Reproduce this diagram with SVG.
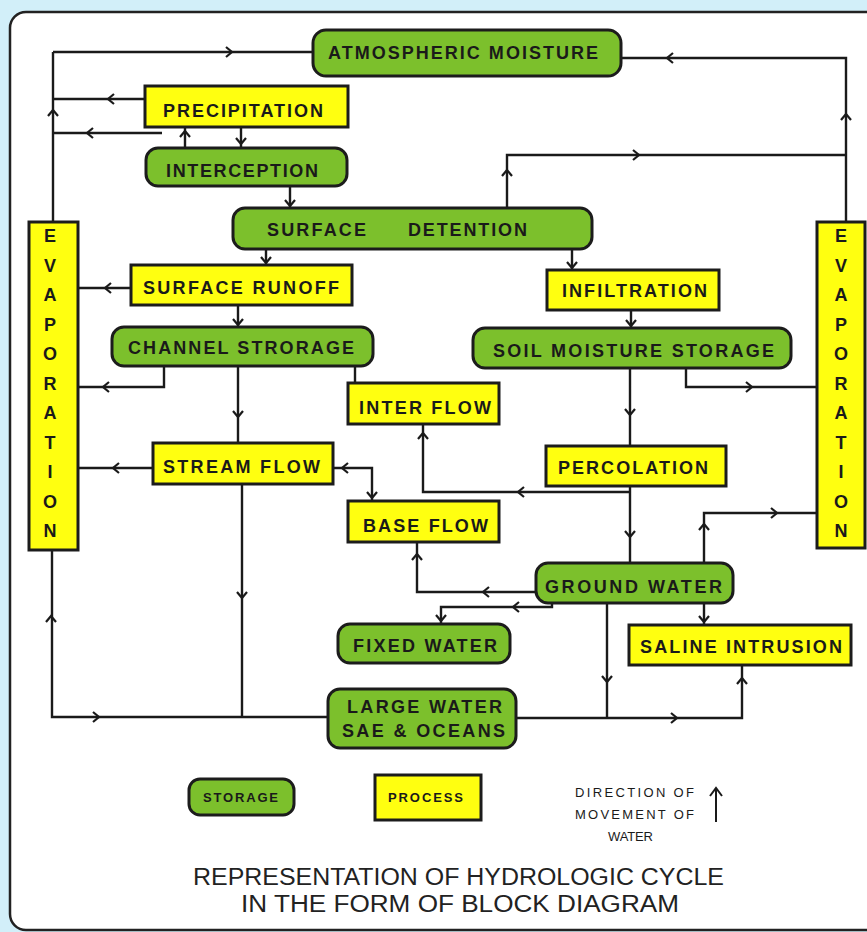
<svg xmlns="http://www.w3.org/2000/svg" xmlns:xlink="http://www.w3.org/1999/xlink" width="867" height="932" viewBox="0 0 867 932">
<style>
.st{fill:#7cc02c;stroke:#1c1c1c;stroke-width:3}
.pr{fill:#ffff10;stroke:#1c1c1c;stroke-width:3}
.t{font-family:"Liberation Sans",Arial,sans-serif;font-weight:bold;font-size:18px;fill:#1a1a1a}
.ev{font-family:"Liberation Sans",Arial,sans-serif;font-weight:bold;font-size:18px;fill:#1a1a1a;text-anchor:middle}
.ln{fill:none;stroke:#1a1a1a;stroke-width:2.4}
.lg{font-family:"Liberation Sans",Arial,sans-serif;font-weight:bold;font-size:13px;fill:#1a1a1a}
.dir{font-family:"Liberation Sans",Arial,sans-serif;font-size:13px;fill:#1a1a1a}
.ttl{font-family:"Liberation Sans",Arial,sans-serif;font-size:23px;fill:#222}
</style>
<defs>
<path id="a" d="M-6,-5 L0,0 L-6,5" fill="none" stroke="#1a1a1a" stroke-width="2.2"/>
</defs>
<rect x="0" y="0" width="867" height="932" fill="#d2eff9"/>
<rect x="10" y="12" width="890" height="918" rx="16" fill="#ffffff" stroke="#222" stroke-width="2.5"/>

<g id="connectors">
<path class="ln" d="M53,52 H313 M53,52 V222 M145,99 H53 M162,133 H53 M185,148 V127 M241,127 V148 M290,186 V208 M266,249 V265 M131,288 H78 M238,305 V327 M164,366 V387 H78 M238,366 V443 M355,366 V383 M153,468 H78 M242,484 V718 M333,468 H372 V501 M630,368 V446 M630,486 V563 M630,492 H423 V424 M536,592 H417 V542 M552,603 V607 H441 V624 M572,249 V270 M631,310 V328 M686,368 V387 H817 M507,208 V155 H846 M846,222 V58 H621 M704,563 V513 H817 M607,603 V718 M704,603 V625 M516,718 H742 V665 M52,550 V717 H328"/>
<use xlink:href="#a" transform="translate(232,52)"/>
<use xlink:href="#a" transform="translate(108,99) rotate(180)"/>
<use xlink:href="#a" transform="translate(87,133) rotate(180)"/>
<use xlink:href="#a" transform="translate(53,110) rotate(-90)"/>
<use xlink:href="#a" transform="translate(185,131) rotate(-90)"/>
<use xlink:href="#a" transform="translate(241,144) rotate(90)"/>
<use xlink:href="#a" transform="translate(290,206) rotate(90)"/>
<use xlink:href="#a" transform="translate(266,263) rotate(90)"/>
<use xlink:href="#a" transform="translate(105,288) rotate(180)"/>
<use xlink:href="#a" transform="translate(238,325) rotate(90)"/>
<use xlink:href="#a" transform="translate(103,387) rotate(180)"/>
<use xlink:href="#a" transform="translate(238,417) rotate(90)"/>
<use xlink:href="#a" transform="translate(113,468) rotate(180)"/>
<use xlink:href="#a" transform="translate(242,598) rotate(90)"/>
<use xlink:href="#a" transform="translate(342,468) rotate(180)"/>
<use xlink:href="#a" transform="translate(372,498) rotate(90)"/>
<use xlink:href="#a" transform="translate(423,433) rotate(-90)"/>
<use xlink:href="#a" transform="translate(518,492) rotate(180)"/>
<use xlink:href="#a" transform="translate(417,554) rotate(-90)"/>
<use xlink:href="#a" transform="translate(483,592) rotate(180)"/>
<use xlink:href="#a" transform="translate(513,607) rotate(180)"/>
<use xlink:href="#a" transform="translate(441,621) rotate(90)"/>
<use xlink:href="#a" transform="translate(630,415) rotate(90)"/>
<use xlink:href="#a" transform="translate(630,537) rotate(90)"/>
<use xlink:href="#a" transform="translate(572,268) rotate(90)"/>
<use xlink:href="#a" transform="translate(631,326) rotate(90)"/>
<use xlink:href="#a" transform="translate(752,387)"/>
<use xlink:href="#a" transform="translate(507,170) rotate(-90)"/>
<use xlink:href="#a" transform="translate(639,155)"/>
<use xlink:href="#a" transform="translate(846,114) rotate(-90)"/>
<use xlink:href="#a" transform="translate(667,58) rotate(180)"/>
<use xlink:href="#a" transform="translate(704,524) rotate(-90)"/>
<use xlink:href="#a" transform="translate(777,513)"/>
<use xlink:href="#a" transform="translate(607,682) rotate(90)"/>
<use xlink:href="#a" transform="translate(704,622) rotate(90)"/>
<use xlink:href="#a" transform="translate(742,678) rotate(-90)"/>
<use xlink:href="#a" transform="translate(677,718)"/>
<use xlink:href="#a" transform="translate(51,616) rotate(-90)"/>
<use xlink:href="#a" transform="translate(99,717)"/>
</g>

<g id="atmospheric-moisture"><rect class="st" x="313" y="30" width="308" height="46" rx="13"/><text class="t" x="328" y="59" textLength="270" lengthAdjust="spacing">ATMOSPHERIC MOISTURE</text></g>
<g id="precipitation"><rect class="pr" x="145" y="86" width="203" height="41"/><text class="t" x="163" y="117" textLength="160" lengthAdjust="spacing">PRECIPITATION</text></g>
<g id="interception"><rect class="st" x="146" y="148" width="201" height="38" rx="12"/><text class="t" x="166" y="177" textLength="152" lengthAdjust="spacing">INTERCEPTION</text></g>
<g id="surface-detention"><rect class="st" x="233" y="208" width="359" height="41" rx="12"/><text class="t" y="236"><tspan x="267" textLength="99" lengthAdjust="spacing">SURFACE</tspan><tspan x="408" textLength="119" lengthAdjust="spacing">DETENTION</tspan></text></g>
<g id="surface-runoff"><rect class="pr" x="131" y="265" width="221" height="40"/><text class="t" x="143" y="294" textLength="196" lengthAdjust="spacing">SURFACE RUNOFF</text></g>
<g id="channel-storage"><rect class="st" x="112" y="327" width="261" height="39" rx="12"/><text class="t" x="128" y="354" textLength="226" lengthAdjust="spacing">CHANNEL STRORAGE</text></g>
<g id="infiltration"><rect class="pr" x="547" y="270" width="172" height="40"/><text class="t" x="562" y="297" textLength="145" lengthAdjust="spacing">INFILTRATION</text></g>
<g id="soil-moisture-storage"><rect class="st" x="473" y="328" width="318" height="40" rx="12"/><text class="t" x="493" y="357" textLength="281" lengthAdjust="spacing">SOIL MOISTURE STORAGE</text></g>
<g id="evaporation-left"><rect class="pr" x="29" y="222" width="49" height="328"/><text class="ev"><tspan x="50" y="242">E</tspan><tspan x="50" y="271.5">V</tspan><tspan x="50" y="301">A</tspan><tspan x="50" y="330.5">P</tspan><tspan x="50" y="360">O</tspan><tspan x="50" y="389.5">R</tspan><tspan x="50" y="419">A</tspan><tspan x="50" y="448.5">T</tspan><tspan x="50" y="478">I</tspan><tspan x="50" y="507.5">O</tspan><tspan x="50" y="537">N</tspan></text></g>
<g id="evaporation-right"><rect class="pr" x="817" y="222" width="48" height="326"/><text class="ev"><tspan x="841" y="242">E</tspan><tspan x="841" y="271.5">V</tspan><tspan x="841" y="301">A</tspan><tspan x="841" y="330.5">P</tspan><tspan x="841" y="360">O</tspan><tspan x="841" y="389.5">R</tspan><tspan x="841" y="419">A</tspan><tspan x="841" y="448.5">T</tspan><tspan x="841" y="478">I</tspan><tspan x="841" y="507.5">O</tspan><tspan x="841" y="537">N</tspan></text></g>
<g id="inter-flow"><rect class="pr" x="348" y="383" width="151" height="41"/><text class="t" x="359" y="414" textLength="132" lengthAdjust="spacing">INTER FLOW</text></g>
<g id="stream-flow"><rect class="pr" x="153" y="443" width="180" height="41"/><text class="t" x="163" y="473" textLength="157" lengthAdjust="spacing">STREAM FLOW</text></g>
<g id="percolation"><rect class="pr" x="546" y="446" width="180" height="40"/><text class="t" x="558" y="474" textLength="150" lengthAdjust="spacing">PERCOLATION</text></g>
<g id="base-flow"><rect class="pr" x="348" y="501" width="151" height="41"/><text class="t" x="363" y="532" textLength="125" lengthAdjust="spacing">BASE FLOW</text></g>
<g id="ground-water"><rect class="st" x="536" y="563" width="197" height="40" rx="12"/><text class="t" x="545" y="593" textLength="177" lengthAdjust="spacing">GROUND WATER</text></g>
<g id="fixed-water"><rect class="st" x="338" y="624" width="172" height="39" rx="12"/><text class="t" x="353" y="652" textLength="144" lengthAdjust="spacing">FIXED WATER</text></g>
<g id="saline-intrusion"><rect class="pr" x="629" y="625" width="222" height="40"/><text class="t" x="640" y="653" textLength="202" lengthAdjust="spacing">SALINE INTRUSION</text></g>
<g id="large-water"><rect class="st" x="328" y="689" width="188" height="59" rx="12"/><text class="t"><tspan x="347" y="713" textLength="155" lengthAdjust="spacing">LARGE WATER</tspan><tspan x="342" y="737" textLength="163" lengthAdjust="spacing">SAE &amp; OCEANS</tspan></text></g>

<g id="legend-storage"><rect class="st" x="189" y="779" width="105" height="36" rx="11"/><text class="lg" x="203" y="802" textLength="75" lengthAdjust="spacing">STORAGE</text></g>
<g id="legend-process"><rect class="pr" x="375" y="775" width="106" height="45"/><text class="lg" x="388" y="802" textLength="75" lengthAdjust="spacing">PROCESS</text></g>
<g id="legend-direction">
<text class="dir"><tspan x="575" y="797" textLength="119" lengthAdjust="spacing">DIRECTION OF</tspan><tspan x="575" y="819" textLength="119" lengthAdjust="spacing">MOVEMENT OF</tspan><tspan x="608" y="841" textLength="45" lengthAdjust="spacing">WATER</tspan></text>
<path d="M716,822 V788 M710,796 L716,788 L722,796" fill="none" stroke="#1a1a1a" stroke-width="2"/>
</g>
<g id="title">
<text class="ttl" x="193" y="885" textLength="531" lengthAdjust="spacingAndGlyphs">REPRESENTATION OF HYDROLOGIC CYCLE</text>
<text class="ttl" x="241" y="912" textLength="438" lengthAdjust="spacingAndGlyphs">IN THE FORM OF BLOCK DIAGRAM</text>
</g>
</svg>
